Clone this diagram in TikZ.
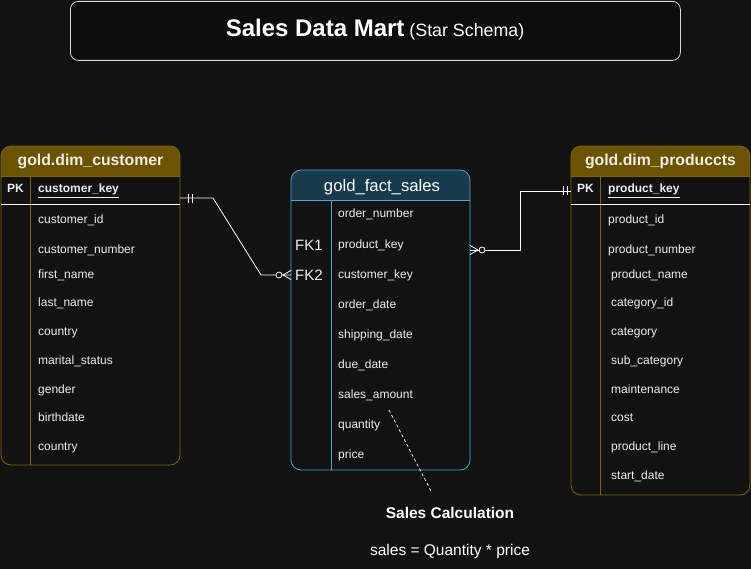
\documentclass[tikz,border=0pt]{standalone}
\usepackage{fontspec}
\setmainfont{Liberation Sans}
\definecolor{bg}{HTML}{121212}
\definecolor{titlefill}{HTML}{0D0D0D}
\definecolor{dimhdr}{HTML}{6B5300}
\definecolor{dimline}{HTML}{806600}
\definecolor{facthdr}{HTML}{173B4C}
\definecolor{factline}{HTML}{4DA6D3}
\definecolor{txt}{HTML}{EEEEEE}
\begin{document}
\begin{tikzpicture}[x=1pt,y=-1pt,
  row/.style={anchor=west, text=txt, font=\fontsize{12}{14}\selectfont, text height=8.5pt, text depth=2.5pt, inner sep=0pt},
  pkrow/.style={row, font=\bfseries\fontsize{12}{14}\selectfont},
  fkrow/.style={row, font=\fontsize{15}{17}\selectfont, text height=11pt, text depth=0pt},
  hdrtext/.style={text=txt, font=\bfseries\fontsize{15.8}{18}\selectfont, inner sep=0pt},
  tbl/.style={fill=bg, rounded corners=10pt, inner sep=0pt, outer sep=0pt, anchor=north west},
  conn/.style={draw=white, line width=0.8pt},
  tick/.style={draw=white, line width=0.8pt},
  ring/.style={draw=white, fill=bg, line width=0.8pt}
]
\fill[bg] (0,0) rectangle (751,569);
\useasboundingbox (0,0) rectangle (751,569);

% title
\node[draw=white!85!black, fill=titlefill, rounded corners=8pt, minimum width=610pt, minimum height=59pt, line width=0.8pt, anchor=north west] (titlebox) at (70,1) {};
\node[anchor=base, text=white, inner sep=0pt] (title) at (375,37) {\fontsize{24}{27}\selectfont\bfseries Sales Data Mart\fontsize{17.8}{20}\selectfont\mdseries{} (Star Schema)};

% ---------------- customer table
\node[tbl, minimum width=179pt, minimum height=319pt] (cust) at (1,146) {};
\begin{scope}
\clip[rounded corners=10pt] (1,146) rectangle (180,465);
\fill[dimhdr] (1,146) rectangle (180,176);
\end{scope}
\draw[dimline, line width=0.8pt, rounded corners=10pt] (1,146) rectangle (180,465);
\draw[dimline, line width=0.8pt] (1,176) -- (180,176);
\draw[dimline, line width=0.8pt] (30,176) -- (30,465);
\draw[white, line width=1pt] (1,205) -- (180,205);
\node[hdrtext] (custhdr) at (90.5,161) {gold.dim\_customer};
\node[pkrow] (custpk) at (7,190) {PK};
\node[pkrow] (custkey) at (38,190) {\underline{customer\_key}};
\node[row] (c1) at (38,220) {customer\_id};
\node[row] (c2) at (38,250) {customer\_number};
\node[row] (c3) at (38,275) {first\_name};
\node[row] (c4) at (38,303) {last\_name};
\node[row] (c5) at (38,332) {country};
\node[row] (c6) at (38,361) {marital\_status};
\node[row] (c7) at (38,390) {gender};
\node[row] (c8) at (38,418) {birthdate};
\node[row] (c9) at (38,447) {country};

% ---------------- fact table
\node[tbl, minimum width=179pt, minimum height=300pt] (fact) at (291,170) {};
\begin{scope}
\clip[rounded corners=10pt] (291,170) rectangle (470,470);
\fill[facthdr] (291,170) rectangle (470,200);
\end{scope}
\draw[factline, line width=0.8pt, rounded corners=10pt] (291,170) rectangle (470,470);
\draw[factline, line width=0.8pt] (291,200) -- (470,200);
\draw[factline, line width=0.8pt] (331,200) -- (331,470);
\node[text=white, inner sep=0pt, font=\fontsize{16.7}{19}\selectfont] (facthdrtxt) at (382,187) {gold\_fact\_sales};
\node[fkrow] (fk1) at (295,245) {FK1};
\node[fkrow] (fk2) at (295,275) {FK2};
\node[row] (f1) at (338,215) {order\_number};
\node[row] (f2) at (338,245) {product\_key};
\node[row] (f3) at (338,275) {customer\_key};
\node[row] (f4) at (338,305) {order\_date};
\node[row] (f5) at (338,335) {shipping\_date};
\node[row] (f6) at (338,365) {due\_date};
\node[row] (f7) at (338,395) {sales\_amount};
\node[row] (f8) at (338,425) {quantity};
\node[row] (f9) at (338,455) {price};

% ---------------- product table
\node[tbl, minimum width=179pt, minimum height=349pt] (prod) at (571,146) {};
\begin{scope}
\clip[rounded corners=10pt] (571,146) rectangle (750,495);
\fill[dimhdr] (571,146) rectangle (750,176);
\end{scope}
\draw[dimline, line width=0.8pt, rounded corners=10pt] (571,146) rectangle (750,495);
\draw[dimline, line width=0.8pt] (571,176) -- (750,176);
\draw[dimline, line width=0.8pt] (600,176) -- (600,495);
\draw[white, line width=1pt] (571,205) -- (750,205);
\node[hdrtext] (prodhdr) at (660.5,161) {gold.dim\_produccts};
\node[pkrow] (prodpk) at (577,190) {PK};
\node[pkrow] (prodkey) at (608,190) {\underline{product\_key}};
\node[row] (p1) at (608,220) {product\_id};
\node[row] (p2) at (608,250) {product\_number};
\node[row] (p3) at (611,275) {product\_name};
\node[row] (p4) at (611,303) {category\_id};
\node[row] (p5) at (611,332) {category};
\node[row] (p6) at (611,361) {sub\_category};
\node[row] (p7) at (611,390) {maintenance};
\node[row] (p8) at (611,418) {cost};
\node[row] (p9) at (611,447) {product\_line};
\node[row] (p10) at (611,476) {start\_date};

% ---------------- connectors
\coordinate (custport) at (180,198);
\coordinate (factin) at (fact.west |- fk2);
\coordinate (factout) at (470,250);
\coordinate (prodport) at (571,191);

\draw[conn] (custport) -- (213,198) -- (261,275) -- (factin);
\draw[tick] (188,194) -- (188,203);
\draw[tick] (192,194) -- (192,203);
\draw[tick] (283,275) -- (291,270.5);
\draw[tick] (283,275) -- (291,279.5);
\draw[ring] (279,275) circle (3pt);

\draw[conn] (factout) -- (520,250) -- (520,191) -- (prodport);
\draw[tick] (478,250) -- (470,245.5);
\draw[tick] (478,250) -- (470,254.5);
\draw[ring] (482,250) circle (3pt);
\draw[tick] (563,186.5) -- (563,195.5);
\draw[tick] (567,186.5) -- (567,195.5);

% ---------------- note
\node[text=white, inner sep=0pt, font=\bfseries\fontsize{15.5}{18}\selectfont] (calc) at (450,513) {Sales Calculation};
\node[text=white, inner sep=0pt, font=\fontsize{15.5}{18}\selectfont] (formula) at (450,551) {sales = Quantity * price};
\coordinate (notestart) at (389,410);
\coordinate (noteend) at (431,491);
\draw[white, line width=0.7pt, dash pattern=on 3pt off 2.5pt] (notestart) -- (noteend);
\end{tikzpicture}
\end{document}
